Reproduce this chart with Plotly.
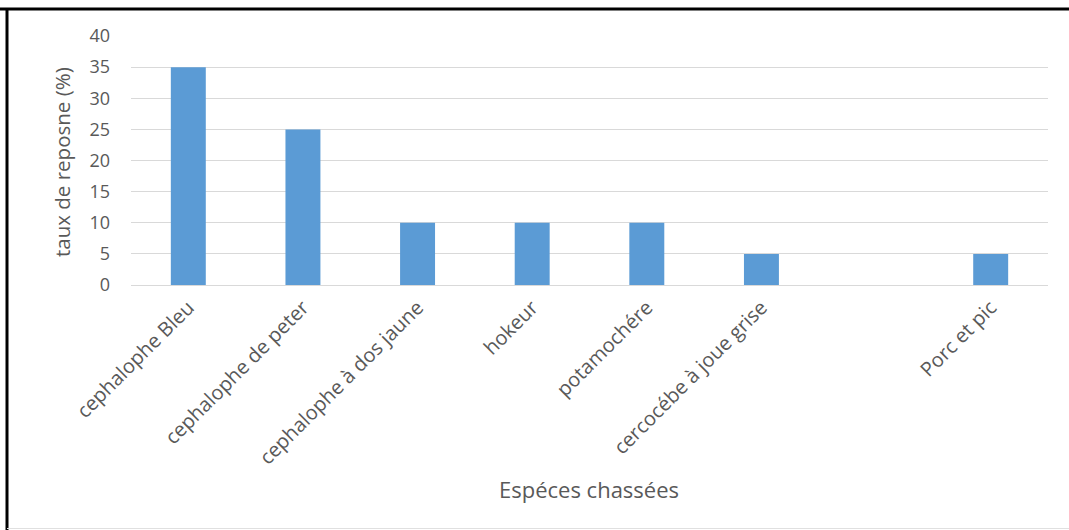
import plotly.graph_objects as go

categories = ["cephalophe Bleu", "cephalophe de peter", "cephalophe à dos jaune",
              "hokeur", "potamochére", "cercocébe à joue grise", " ", "Porc et pic"]
values = [35, 25, 10, 10, 10, 5, None, 5]
y_ticks = [0, 5, 10, 15, 20, 25, 30, 35, 40]

W, H = 1069, 530
L, R, T, B = 131, 1048, 36, 285
pw, ph = R - L, B - T

def px(x):
    return (x - L) / pw

def py(y):
    return (B - y) / ph

FONT = "Open Sans"
GRAY = "#595959"

fig = go.Figure(go.Bar(x=categories, y=values, marker=dict(color="#5b9bd5", line=dict(width=0))))

fig.update_layout(
    width=W, height=H,
    margin=dict(l=L, r=W - R, t=T, b=H - B, autoexpand=False),
    paper_bgcolor="white", plot_bgcolor="white",
    bargap=0.695,
    showlegend=False,
    font=dict(family=FONT, color=GRAY),
)
fig.update_xaxes(
    type="category", tickangle=-45, tickfont=dict(size=20, color=GRAY, family=FONT),
    showgrid=False, showline=True, linecolor="#d9d9d9", linewidth=1, ticks="", automargin=False,
    ticklabelstandoff=2,
)
fig.update_yaxes(
    range=[0, 40], tickvals=y_ticks, tickfont=dict(size=18, color=GRAY, family=FONT),
    showgrid=True, gridcolor="#d9d9d9", gridwidth=1, zeroline=False, showline=False,
    ticks="", ticklabelstandoff=20, automargin=False,
)
fig.add_annotation(text="taux de reposne (%)", xref="paper", yref="paper",
                   x=px(62), y=py(162), xanchor="center", yanchor="middle",
                   textangle=-90, showarrow=False,
                   font=dict(size=20.5, color=GRAY, family=FONT))
fig.add_annotation(text="Espéces chassées", xref="paper", yref="paper",
                   x=px(589), y=py(489), xanchor="center", yanchor="middle", showarrow=False,
                   font=dict(size=22, color=GRAY, family=FONT))
# frame
fig.add_shape(type="line", xref="paper", yref="paper", x0=px(0), x1=px(W), y0=py(9), y1=py(9),
              line=dict(color="black", width=3))
fig.add_shape(type="line", xref="paper", yref="paper", x0=px(7), x1=px(7), y0=py(9), y1=py(530),
              line=dict(color="black", width=3))
fig.add_shape(type="line", xref="paper", yref="paper", x0=px(7), x1=px(W), y0=py(528.5), y1=py(528.5),
              line=dict(color="#e0e0e0", width=1))

fig.write_html("out.html")
